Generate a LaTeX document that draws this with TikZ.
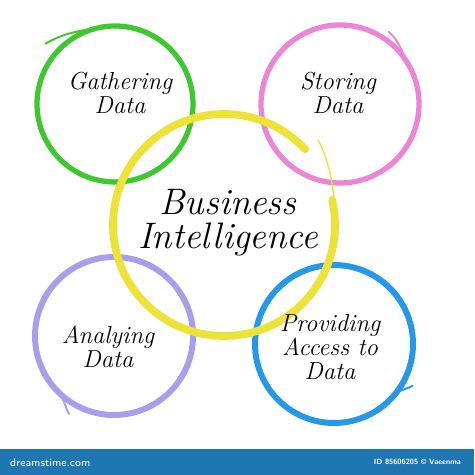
\documentclass[tikz,border=0pt]{standalone}
\usetikzlibrary{calc}

\definecolor{gatherclr}{RGB}{62,200,48}
\definecolor{storeclr}{RGB}{238,132,214}
\definecolor{biclr}{RGB}{236,226,56}
\definecolor{analyseclr}{RGB}{168,158,236}
\definecolor{accessclr}{RGB}{38,152,232}
\definecolor{barclr}{RGB}{30,118,178}

\begin{document}
\begin{tikzpicture}[
 x=0.02cm, y=0.02cm,
 ringtext/.style={align=center, font=\fontsize{14}{13.5}\selectfont\itshape},
 ringline/.style={line width=3pt, line cap=round},
 brush/.style={line width=1.1pt, line cap=round},
 bartext/.style={text=white, font=\sffamily\bfseries}
 ]

  \useasboundingbox (0,0) rectangle (474,475);

  % Circle centres
  \coordinate (gc) at (115,371);
  \coordinate (sc) at (340,371);
  \coordinate (bc) at (224,250);
  \coordinate (ac) at (114,139);
  \coordinate (pc) at (334,131);

  % Outer rings
  \draw[ringline, gatherclr] (gc) ++(131:78) arc[start angle=131, end angle=491, radius=78];
  \draw[brush, gatherclr] ($(gc)+(139:92)$) to[out=30, in=190] ($(gc)+(101:78)$);

  \draw[ringline, storeclr] (sc) ++(37:79) arc[start angle=37, end angle=397, radius=79];
  \draw[brush, storeclr] ($(sc)+(56:87)$) to[out=-40, in=125] ($(sc)+(30:80)$);

  \draw[ringline, analyseclr, line width=3.4pt] (ac) ++(224:79) arc[start angle=224, end angle=584, radius=79];
  \draw[brush, analyseclr] ($(ac)+(224:79)$) to[out=-46, in=118] ($(ac)+(240:90)$);

  \draw[ringline, accessclr, line width=3.4pt] (pc) ++(-45:79) arc[start angle=-45, end angle=315, radius=79];
  \draw[brush, accessclr] ($(pc)+(-45:77)$) to[out=45, in=207] ($(pc)+(-28:89)$);

  % Centre ring
  \draw[ringline, biclr, line width=4.4pt] (bc) ++(43:111) arc[start angle=43, end angle=373, radius=111];
  \draw[brush, biclr, line width=0.8pt] ($(bc)+(42:127)$) to[out=-65, in=95] ($(bc)+(5:112)$);

  % Labels
  \node[ringtext] (gather) at (120,382) {Gathering\\Data};
  \node[ringtext] (store) at (338,382) {Storing\\Data};
  \node[ringtext, font=\fontsize{21}{19.5}\selectfont\itshape] (bi) at (228,252) {Business\\Intelligence};
  \node[ringtext] (analyse) at (108,128) {Analying\\Data};
  \node[ringtext] (access) at (330,128) {Providing\\Access to\\Data};

  % Bottom bar
  \fill[barclr] (0,0) rectangle (474,26);
  \node[bartext, font=\sffamily\fontsize{6.3}{7}\selectfont, anchor=west] (site) at (4,12) {dreamstime.com};
  \node[bartext, font=\sffamily\bfseries\fontsize{4.3}{5}\selectfont, anchor=east] (credit) at (467,13) {ID 85606205 \textcopyright{} Vaeenma};

\end{tikzpicture}
\end{document}
